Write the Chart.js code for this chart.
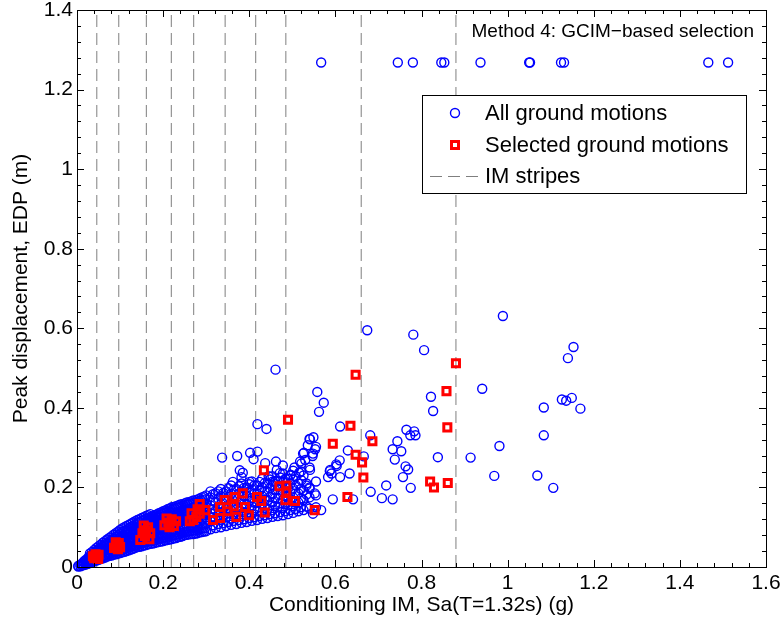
<!DOCTYPE html>
<html lang="en">
<head>
<meta charset="UTF-8">
<title>GCIM-based selection</title>
<script src="https://cdn.jsdelivr.net/npm/chart.js"></script>
<style>
    body { margin: 0; background: #fff; }
    .chart-wrapper { width: 781px; height: 628px; position: relative; }
</style>
</head>
<body>
<div class="chart-wrapper"><canvas id="edpChart"></canvas></div>
<script>
const FONT = "'Liberation Sans', Arial, Helvetica, sans-serif";

// axes
const xTickValues = [0, 0.2, 0.4, 0.6, 0.8, 1, 1.2, 1.4, 1.6];
const xTickLabels = ['0', '0.2', '0.4', '0.6', '0.8', '1', '1.2', '1.4', '1.6'];
const yTickValues = [0, 0.2, 0.4, 0.6, 0.8, 1, 1.2, 1.4];
const yTickLabels = ['0', '0.2', '0.4', '0.6', '0.8', '1', '1.2', '1.4'];

// IM stripe locations, Sa (g)
const stripeIM = [0.046, 0.097, 0.161, 0.219, 0.271, 0.344, 0.415, 0.485, 0.660, 0.880];

// all ground motions [Sa, EDP]
const allMotions = [
    [0.003,0.001],[0.003,0.003],[0.008,0.002],[0.008,0.006],[0.012,0.004],[0.012,0.009],
    [0.016,0.005],[0.016,0.011],[0.016,0.014],[0.02,0.006],[0.02,0.012],[0.02,0.018],
    [0.025,0.008],[0.025,0.015],[0.025,0.022],[0.03,0.010],[0.03,0.018],[0.03,0.027],
    [0.035,0.012],[0.035,0.021],[0.035,0.031],[0.04,0.014],[0.04,0.024],[0.04,0.035],
    [0.045,0.016],[0.045,0.027],[0.045,0.040],[0.05,0.018],[0.05,0.030],[0.05,0.044],
    [0.055,0.020],[0.055,0.034],[0.055,0.048],[0.06,0.022],[0.06,0.037],[0.06,0.052],
    [0.065,0.024],[0.065,0.040],[0.065,0.057],[0.07,0.026],[0.07,0.036],[0.07,0.048],[0.07,0.060],
    [0.075,0.028],[0.075,0.042],[0.075,0.055],[0.075,0.064],[0.08,0.029],[0.08,0.040],[0.08,0.052],[0.08,0.068],
    [0.085,0.031],[0.085,0.046],[0.085,0.060],[0.085,0.072],[0.09,0.032],[0.09,0.044],[0.09,0.057],[0.09,0.076],
    [0.095,0.034],[0.095,0.049],[0.095,0.065],[0.095,0.080],
    [0.10,0.035],[0.10,0.047],[0.10,0.060],[0.10,0.073],[0.10,0.084],
    [0.105,0.037],[0.105,0.053],[0.105,0.068],[0.105,0.088],
    [0.11,0.038],[0.11,0.050],[0.11,0.063],[0.11,0.077],[0.11,0.091],
    [0.115,0.040],[0.115,0.056],[0.115,0.071],[0.115,0.094],
    [0.12,0.042],[0.12,0.054],[0.12,0.067],[0.12,0.082],[0.12,0.097],
    [0.125,0.044],[0.125,0.060],[0.125,0.075],[0.125,0.090],[0.125,0.100],
    [0.13,0.046],[0.13,0.058],[0.13,0.071],[0.13,0.086],[0.13,0.103],
    [0.135,0.048],[0.135,0.064],[0.135,0.080],[0.135,0.095],[0.135,0.107],
    [0.14,0.050],[0.14,0.062],[0.14,0.075],[0.14,0.090],[0.14,0.110],
    [0.145,0.051],[0.145,0.068],[0.145,0.084],[0.145,0.100],[0.145,0.112],
    [0.15,0.052],[0.15,0.065],[0.15,0.079],[0.15,0.094],[0.15,0.115],
    [0.155,0.054],[0.155,0.071],[0.155,0.088],[0.155,0.105],[0.155,0.117],
    [0.16,0.055],[0.16,0.068],[0.16,0.083],[0.16,0.098],[0.16,0.112],[0.16,0.120],
    [0.165,0.057],[0.165,0.075],[0.165,0.092],[0.165,0.109],[0.165,0.122],
    [0.17,0.058],[0.17,0.071],[0.17,0.086],[0.17,0.101],[0.17,0.116],[0.17,0.125],
    [0.175,0.059],[0.175,0.078],[0.175,0.095],[0.175,0.112],[0.175,0.127],
    [0.18,0.060],[0.18,0.074],[0.18,0.089],[0.18,0.105],[0.18,0.120],[0.18,0.130],
    [0.185,0.062],[0.185,0.081],[0.185,0.098],[0.185,0.115],[0.185,0.132],
    [0.19,0.063],[0.19,0.077],[0.19,0.092],[0.19,0.108],[0.19,0.124],[0.19,0.135],
    [0.195,0.064],[0.195,0.084],[0.195,0.101],[0.195,0.119],[0.195,0.137],
    [0.20,0.065],[0.20,0.080],[0.20,0.095],[0.20,0.111],[0.20,0.127],[0.20,0.140],
    [0.205,0.067],[0.205,0.087],[0.205,0.104],[0.205,0.122],[0.205,0.142],
    [0.21,0.068],[0.21,0.083],[0.21,0.098],[0.21,0.115],[0.21,0.131],[0.21,0.145],
    [0.215,0.069],[0.215,0.090],[0.215,0.108],[0.215,0.126],[0.215,0.147],
    [0.22,0.070],[0.22,0.086],[0.22,0.101],[0.22,0.118],[0.22,0.135],[0.22,0.150],
    [0.225,0.072],[0.225,0.093],[0.225,0.111],[0.225,0.129],[0.225,0.151],
    [0.23,0.073],[0.23,0.088],[0.23,0.104],[0.23,0.121],[0.23,0.138],[0.23,0.153],
    [0.235,0.075],[0.235,0.096],[0.235,0.114],[0.235,0.132],[0.235,0.155],
    [0.24,0.076],[0.24,0.091],[0.24,0.107],[0.24,0.124],[0.24,0.141],[0.24,0.157],
    [0.245,0.078],[0.245,0.099],[0.245,0.117],[0.245,0.135],[0.245,0.158],
    [0.25,0.080],[0.25,0.094],[0.25,0.110],[0.25,0.127],[0.25,0.144],[0.25,0.160],
    [0.255,0.081],[0.255,0.102],[0.255,0.120],[0.255,0.138],[0.255,0.162],
    [0.26,0.082],[0.26,0.097],[0.26,0.113],[0.26,0.130],[0.26,0.147],[0.26,0.163],
    [0.265,0.083],[0.265,0.105],[0.265,0.123],[0.265,0.141],[0.265,0.165],
    [0.27,0.083],[0.27,0.099],[0.27,0.116],[0.27,0.133],[0.27,0.150],[0.27,0.167],
    [0.275,0.084],[0.275,0.108],[0.275,0.126],[0.275,0.144],[0.275,0.168],
    [0.28,0.085],[0.28,0.102],[0.28,0.119],[0.28,0.136],[0.28,0.153],[0.28,0.170],
    [0.285,0.087],[0.285,0.111],[0.285,0.129],[0.285,0.147],[0.285,0.172],
    [0.29,0.088],[0.29,0.105],[0.29,0.122],[0.29,0.139],[0.29,0.156],[0.29,0.175],
    [0.295,0.089],[0.295,0.114],[0.295,0.132],[0.295,0.150],[0.295,0.177],
    [0.30,0.090],[0.30,0.108],[0.30,0.125],[0.30,0.142],[0.30,0.160],[0.30,0.180],
    // in-between points of the dense band
    [0.0125,0.005],[0.0125,0.007],[0.0225,0.009],[0.0225,0.015],
    [0.0275,0.011],[0.0275,0.019],[0.0275,0.025],[0.0325,0.014],[0.0325,0.023],[0.0325,0.029],
    [0.0375,0.017],[0.0375,0.027],[0.0375,0.033],[0.0425,0.019],[0.0425,0.030],[0.0425,0.038],
    [0.0475,0.021],[0.0475,0.034],[0.0475,0.042],[0.0525,0.024],[0.0525,0.037],[0.0525,0.046],
    [0.0575,0.026],[0.0575,0.041],[0.0575,0.050],[0.0625,0.029],[0.0625,0.045],[0.0625,0.054],
    [0.0675,0.031],[0.0675,0.043],[0.0675,0.054],[0.0725,0.031],[0.0725,0.045],[0.0725,0.058],
    [0.0775,0.034],[0.0775,0.047],[0.0775,0.060],[0.0825,0.035],[0.0825,0.049],[0.0825,0.064],
    [0.0875,0.038],[0.0875,0.052],[0.0875,0.067],[0.0925,0.039],[0.0925,0.051],[0.0925,0.070],
    [0.0975,0.041],[0.0975,0.055],[0.0975,0.072],[0.1025,0.042],[0.1025,0.057],[0.1025,0.078],
    [0.1075,0.044],[0.1075,0.060],[0.1075,0.080],[0.1125,0.046],[0.1125,0.062],[0.1125,0.085],
    [0.1175,0.048],[0.1175,0.064],[0.1175,0.080],[0.1175,0.090],[0.1225,0.050],[0.1225,0.066],[0.1225,0.086],
    [0.1275,0.052],[0.1275,0.068],[0.1275,0.083],[0.1275,0.096],[0.1325,0.054],[0.1325,0.070],[0.1325,0.090],
    [0.1375,0.056],[0.1375,0.072],[0.1375,0.088],[0.1375,0.101],[0.1425,0.058],[0.1425,0.074],[0.1425,0.096],
    [0.1475,0.059],[0.1475,0.076],[0.1475,0.092],[0.1475,0.106],[0.1525,0.061],[0.1525,0.078],[0.1525,0.100],
    [0.1575,0.062],[0.1575,0.080],[0.1575,0.096],[0.1575,0.110],[0.1625,0.063],[0.1625,0.082],[0.1625,0.104],[0.1625,0.116],
    [0.1675,0.065],[0.1675,0.084],[0.1675,0.100],[0.1675,0.118],[0.1725,0.066],[0.1725,0.086],[0.1725,0.108],[0.1725,0.122],
    [0.1775,0.067],[0.1775,0.088],[0.1775,0.104],[0.1775,0.124],[0.1825,0.068],[0.1825,0.090],[0.1825,0.112],[0.1825,0.127],
    [0.1875,0.070],[0.1875,0.092],[0.1875,0.108],[0.1875,0.128],[0.1925,0.071],[0.1925,0.094],[0.1925,0.116],[0.1925,0.131],
    [0.1975,0.072],[0.1975,0.096],[0.1975,0.112],[0.1975,0.134],[0.2025,0.074],[0.2025,0.098],[0.2025,0.120],[0.2025,0.136],
    [0.2075,0.075],[0.2075,0.100],[0.2075,0.116],[0.2075,0.138],[0.2125,0.077],[0.2125,0.102],[0.2125,0.124],[0.2125,0.140],
    [0.2175,0.078],[0.2175,0.104],[0.2175,0.120],[0.2175,0.143],[0.2225,0.079],[0.2225,0.106],[0.2225,0.128],[0.2225,0.145],
    [0.2275,0.080],[0.2275,0.108],[0.2275,0.124],[0.2275,0.146],[0.2325,0.082],[0.2325,0.110],[0.2325,0.132],[0.2325,0.149],
    [0.2375,0.083],[0.2375,0.112],[0.2375,0.128],[0.2375,0.150],[0.2425,0.085],[0.2425,0.114],[0.2425,0.136],[0.2425,0.153],
    [0.2475,0.087],[0.2475,0.116],[0.2475,0.132],[0.2475,0.154],[0.2525,0.088],[0.2525,0.118],[0.2525,0.140],[0.2525,0.156],
    [0.2575,0.089],[0.2575,0.120],[0.2575,0.136],[0.2575,0.157],[0.2625,0.090],[0.2625,0.122],[0.2625,0.144],[0.2625,0.159],
    [0.2675,0.091],[0.2675,0.124],[0.2675,0.140],[0.2675,0.160],[0.2725,0.092],[0.2725,0.126],[0.2725,0.148],[0.2725,0.162],
    [0.2775,0.093],[0.2775,0.128],[0.2775,0.144],[0.2775,0.163],[0.2825,0.094],[0.2825,0.130],[0.2825,0.152],[0.2825,0.165],
    [0.2875,0.096],[0.2875,0.132],[0.2875,0.148],[0.2875,0.167],[0.2925,0.097],[0.2925,0.134],[0.2925,0.156],[0.2925,0.168],
    [0.2975,0.098],[0.2975,0.136],[0.2975,0.152],[0.2975,0.170],
    // upper rim of the band
    [0.03,0.034],[0.035,0.038],[0.04,0.043],[0.045,0.048],[0.05,0.052],[0.055,0.056],[0.06,0.061],
    [0.065,0.065],[0.07,0.069],[0.075,0.073],[0.08,0.077],[0.085,0.081],[0.09,0.085],[0.095,0.089],
    [0.10,0.093],[0.105,0.097],[0.11,0.100],[0.115,0.103],[0.12,0.106],[0.125,0.109],[0.13,0.112],
    [0.135,0.115],[0.14,0.118],[0.145,0.120],[0.15,0.123],[0.155,0.125],[0.16,0.128],[0.165,0.130],[0.17,0.133],
    // upper part of the cloud, Sa 0.3 - 0.55
    [0.31,0.095],[0.31,0.115],[0.31,0.135],[0.31,0.155],[0.31,0.175],[0.31,0.190],
    [0.322,0.098],[0.322,0.120],[0.322,0.142],[0.322,0.163],[0.322,0.185],
    [0.334,0.100],[0.334,0.118],[0.334,0.138],[0.334,0.158],[0.334,0.178],[0.334,0.196],
    [0.346,0.103],[0.346,0.125],[0.346,0.147],[0.346,0.170],[0.346,0.190],
    [0.358,0.106],[0.358,0.122],[0.358,0.142],[0.358,0.162],[0.358,0.184],[0.358,0.205],
    [0.37,0.108],[0.37,0.130],[0.37,0.152],[0.37,0.175],[0.37,0.196],
    [0.382,0.111],[0.382,0.128],[0.382,0.148],[0.382,0.168],[0.382,0.190],[0.382,0.210],
    [0.394,0.113],[0.394,0.135],[0.394,0.157],[0.394,0.180],[0.394,0.200],
    [0.406,0.116],[0.406,0.133],[0.406,0.152],[0.406,0.173],[0.406,0.195],[0.406,0.215],
    [0.418,0.118],[0.418,0.140],[0.418,0.162],[0.418,0.185],[0.418,0.205],
    [0.43,0.121],[0.43,0.138],[0.43,0.158],[0.43,0.178],[0.43,0.200],[0.43,0.222],
    [0.442,0.123],[0.442,0.145],[0.442,0.167],[0.442,0.190],[0.442,0.210],
    [0.454,0.126],[0.454,0.143],[0.454,0.163],[0.454,0.184],[0.454,0.205],[0.454,0.228],
    [0.466,0.128],[0.466,0.150],[0.466,0.172],[0.466,0.195],[0.466,0.217],
    [0.478,0.130],[0.478,0.148],[0.478,0.168],[0.478,0.190],[0.478,0.213],[0.478,0.235],
    [0.49,0.133],[0.49,0.156],[0.49,0.178],[0.49,0.200],[0.49,0.222],
    [0.502,0.136],[0.502,0.153],[0.502,0.175],[0.502,0.197],[0.502,0.220],[0.502,0.242],
    [0.514,0.140],[0.514,0.162],[0.514,0.185],[0.514,0.210],
    [0.526,0.143],[0.526,0.168],[0.526,0.192],[0.526,0.230],
    [0.54,0.147],[0.54,0.175],[0.54,0.200],[0.54,0.250],[0.555,0.150],[0.555,0.180],[0.555,0.215],
    [0.316,0.105],[0.316,0.125],[0.316,0.145],[0.316,0.165],[0.316,0.183],
    [0.328,0.108],[0.328,0.130],[0.328,0.150],[0.328,0.172],[0.328,0.190],
    [0.340,0.110],[0.340,0.128],[0.340,0.148],[0.340,0.168],[0.340,0.186],
    [0.352,0.113],[0.352,0.135],[0.352,0.155],[0.352,0.177],[0.352,0.198],
    [0.364,0.116],[0.364,0.132],[0.364,0.152],[0.364,0.173],[0.364,0.194],
    [0.376,0.118],[0.376,0.140],[0.376,0.162],[0.376,0.184],[0.376,0.203],
    [0.388,0.120],[0.388,0.138],[0.388,0.158],[0.388,0.178],[0.388,0.199],
    [0.400,0.123],[0.400,0.145],[0.400,0.166],[0.400,0.188],[0.400,0.208],
    [0.412,0.125],[0.412,0.143],[0.412,0.162],[0.412,0.184],[0.412,0.205],
    [0.424,0.128],[0.424,0.150],[0.424,0.172],[0.424,0.193],[0.424,0.214],
    [0.436,0.130],[0.436,0.148],[0.436,0.168],[0.436,0.189],[0.436,0.211],
    [0.448,0.133],[0.448,0.155],[0.448,0.176],[0.448,0.198],[0.448,0.220],
    [0.460,0.135],[0.460,0.153],[0.460,0.173],[0.460,0.194],[0.460,0.216],
    [0.472,0.138],[0.472,0.160],[0.472,0.182],[0.472,0.203],[0.472,0.225],
    [0.484,0.140],[0.484,0.158],[0.484,0.178],[0.484,0.200],[0.484,0.222],
    [0.496,0.143],[0.496,0.165],[0.496,0.187],[0.496,0.210],[0.496,0.232],
    [0.508,0.146],[0.508,0.163],[0.508,0.185],[0.508,0.205],[0.508,0.228],
    [0.520,0.150],[0.520,0.172],[0.520,0.196],[0.520,0.240],[0.533,0.152],[0.533,0.182],[0.533,0.205],
    // scattered motions
    [0.461,0.496],[0.558,0.440],[0.573,0.413],[0.562,0.390],[0.419,0.359],[0.440,0.347],[0.611,0.353],
    [0.541,0.321],[0.549,0.326],[0.555,0.302],[0.553,0.296],[0.527,0.287],[0.518,0.265],[0.530,0.269],[0.547,0.279],
    [0.337,0.275],[0.372,0.279],[0.402,0.287],[0.419,0.290],[0.410,0.271],[0.462,0.265],[0.437,0.261],
    [0.464,0.244],[0.471,0.236],[0.385,0.237],[0.516,0.237],[0.541,0.244],[0.588,0.244],[0.603,0.254],
    [0.362,0.214],[0.382,0.226],[0.401,0.214],[0.378,0.243],[0.536,0.306],[0.525,0.285],[0.521,0.260],
    [0.548,0.285],[0.540,0.322],[0.533,0.210],[0.540,0.197],[0.521,0.218],[0.552,0.185],[0.525,0.168],
    [0.548,0.134],[0.567,0.143],[0.445,0.228],[0.455,0.215],[0.495,0.230],[0.505,0.250],[0.478,0.255],
    [0.610,0.268],[0.602,0.258],[0.611,0.226],[0.587,0.241],[0.591,0.235],[0.583,0.226],[0.641,0.170],
    [0.594,0.170],[0.629,0.293],[0.633,0.235],[0.666,0.278],
    [0.989,0.631],[0.674,0.595],[0.781,0.584],[0.806,0.545],[1.153,0.553],[1.140,0.525],[0.941,0.448],
    [0.822,0.428],[0.827,0.392],[1.084,0.401],[1.126,0.421],[1.136,0.418],[1.149,0.425],[1.169,0.398],
    [1.084,0.331],[0.981,0.304],[0.914,0.275],[0.838,0.276],[0.969,0.229],[1.069,0.230],[1.106,0.199],
    [0.681,0.331],[0.765,0.345],[0.783,0.341],[0.786,0.331],[0.774,0.331],[0.744,0.316],[0.733,0.296],
    [0.753,0.291],[0.738,0.270],[0.763,0.253],[0.769,0.245],[0.757,0.226],[0.775,0.199],[0.718,0.205],
    [0.708,0.173],[0.733,0.170],[0.682,0.189],
    [0.567,1.268],[0.745,1.268],[0.780,1.268],[0.846,1.268],[0.853,1.268],[0.937,1.268],
    [1.050,1.268],[1.052,1.268],[1.124,1.268],[1.131,1.268],[1.466,1.268],[1.512,1.268]
];

// selected ground motions [Sa, EDP]
const selectedMotions = [
    [0.040,0.022],[0.046,0.027],[0.050,0.031],[0.043,0.032],[0.049,0.020],[0.037,0.027],
    [0.086,0.048],[0.092,0.055],[0.097,0.060],[0.100,0.050],[0.090,0.062],[0.095,0.045],
    [0.147,0.068],[0.168,0.070],[0.152,0.085],[0.160,0.092],[0.165,0.100],[0.155,0.104],[0.170,0.085],[0.158,0.078],
    [0.203,0.105],[0.212,0.112],[0.220,0.120],[0.225,0.103],[0.208,0.122],[0.230,0.115],[0.215,0.100],
    [0.262,0.115],[0.270,0.118],[0.277,0.126],[0.285,0.134],[0.285,0.158],[0.298,0.143],[0.280,0.145],[0.266,0.135],
    [0.316,0.118],[0.332,0.123],[0.332,0.151],[0.343,0.168],[0.366,0.176],[0.364,0.153],[0.370,0.126],
    [0.350,0.140],[0.385,0.185],[0.390,0.151],[0.399,0.130],
    [0.418,0.176],[0.428,0.166],[0.436,0.137],[0.434,0.243],
    [0.470,0.203],[0.486,0.205],[0.486,0.190],[0.484,0.168],[0.506,0.166],[0.490,0.370],[0.552,0.143],
    [0.647,0.483],[0.635,0.355],[0.686,0.316],[0.594,0.310],[0.647,0.282],[0.662,0.263],[0.665,0.225],[0.628,0.176],
    [0.880,0.512],[0.858,0.442],[0.860,0.351],[0.820,0.215],[0.829,0.200],[0.861,0.211]
];

const legendLabels = ['All ground motions', 'Selected ground motions', 'IM stripes'];
const cornerTitle = 'Method 4: GCIM\u2212based selection';

const toXY = arr => arr.map(p => ({ x: p[0], y: p[1] }));

// box, inward major/minor ticks, corner text and legend, MATLAB style
const matlabFrame = {
    id: 'matlabFrame',
    afterDraw(chart) {
        const ctx = chart.ctx;
        const { left, right, top, bottom } = chart.chartArea;
        const xs = chart.scales.x, ys = chart.scales.y;
        ctx.save();
        ctx.strokeStyle = '#000';
        ctx.lineWidth = 1;
        ctx.beginPath();
        for (let i = 0; i <= 40; i++) {
            const px = Math.round(xs.getPixelForValue(i * 0.04)) + 0.5;
            const len = i % 5 === 0 ? 7 : 4;
            ctx.moveTo(px, bottom); ctx.lineTo(px, bottom - len);
            ctx.moveTo(px, top); ctx.lineTo(px, top + len);
        }
        for (let i = 0; i <= 35; i++) {
            const py = Math.round(ys.getPixelForValue(i * 0.04)) + 0.5;
            const len = i % 5 === 0 ? 7 : 4;
            ctx.moveTo(left, py); ctx.lineTo(left + len, py);
            ctx.moveTo(right, py); ctx.lineTo(right - len, py);
        }
        ctx.stroke();
        ctx.strokeRect(Math.round(left) + 0.5, Math.round(top) + 0.5,
            Math.round(right - left), Math.round(bottom - top));

        // corner text
        ctx.fillStyle = '#000';
        ctx.font = '19px ' + FONT;
        ctx.textAlign = 'right';
        ctx.textBaseline = 'middle';
        ctx.fillText(cornerTitle, right - 12, top + 22);

        // legend box
        const bx = right - 344, by = top + 85, bw = 324, bh = 98;
        ctx.fillStyle = '#fff';
        ctx.fillRect(bx, by, bw, bh);
        ctx.strokeRect(bx + 0.5, by + 0.5, bw, bh);
        const rows = [by + 18, by + 50, by + 81];
        const mx = bx + 33;
        ctx.strokeStyle = '#0000ff';
        ctx.lineWidth = 1.4;
        ctx.beginPath();
        ctx.arc(mx, rows[0], 4.5, 0, Math.PI * 2);
        ctx.stroke();
        ctx.strokeStyle = '#ff0000';
        ctx.lineWidth = 3;
        ctx.strokeRect(mx - 3.5, rows[1] - 3.5, 7, 7);
        ctx.strokeStyle = '#7f7f7f';
        ctx.lineWidth = 1;
        ctx.setLineDash([12, 6]);
        ctx.beginPath();
        ctx.moveTo(bx + 8, rows[2] + 0.5);
        ctx.lineTo(bx + 57, rows[2] + 0.5);
        ctx.stroke();
        ctx.setLineDash([]);
        ctx.fillStyle = '#000';
        ctx.font = '22px ' + FONT;
        ctx.textAlign = 'left';
        legendLabels.forEach((t, i) => ctx.fillText(t, bx + 63, rows[i] + 1));
        ctx.restore();
    }
};

const stripeSets = stripeIM.map(s => ({
    type: 'line',
    data: [{ x: s, y: 0 }, { x: s, y: 1.4 }],
    borderColor: '#7f7f7f',
    borderWidth: 1,
    borderDash: [12, 6],
    pointRadius: 0,
    showLine: true,
    fill: false,
    order: 3
}));

new Chart(document.getElementById('edpChart'), {
    type: 'scatter',
    data: {
        datasets: [
            {
                label: legendLabels[1],
                data: toXY(selectedMotions),
                pointStyle: 'rect',
                pointRadius: 5,
                borderColor: '#ff0000',
                backgroundColor: 'rgba(0,0,0,0)',
                borderWidth: 3,
                clip: false,
                order: 1
            },
            {
                label: legendLabels[0],
                data: toXY(allMotions),
                pointStyle: 'circle',
                pointRadius: 4.5,
                borderColor: '#0000ff',
                backgroundColor: 'rgba(0,0,0,0)',
                borderWidth: 1.4,
                clip: false,
                order: 2
            },
            ...stripeSets
        ]
    },
    options: {
        responsive: true,
        maintainAspectRatio: false,
        animation: false,
        layout: { padding: { top: 10, right: 15, left: 0, bottom: 0 } },
        plugins: { legend: { display: false }, tooltip: { enabled: false } },
        scales: {
            x: {
                type: 'linear', min: 0, max: 1.6,
                afterBuildTicks: s => { s.ticks = xTickValues.map(v => ({ value: v })); },
                afterFit: s => { s.height = 61; s.paddingLeft = 0; s.paddingRight = 0; },
                ticks: {
                    color: '#000', padding: 4, maxRotation: 0, autoSkip: false,
                    font: { family: FONT, size: 21 },
                    callback: (v, i) => xTickLabels[i]
                },
                grid: { display: false, drawTicks: false },
                border: { display: false },
                title: {
                    display: true, text: 'Conditioning IM, Sa(T=1.32s) (g)', color: '#000',
                    font: { family: FONT, size: 21 }, padding: { top: 0, bottom: 10 }
                }
            },
            y: {
                type: 'linear', min: 0, max: 1.4,
                afterBuildTicks: s => { s.ticks = yTickValues.map(v => ({ value: v })); },
                afterFit: s => { s.width = 77; s.paddingTop = 0; s.paddingBottom = 0; },
                ticks: {
                    color: '#000', padding: 4, autoSkip: false,
                    font: { family: FONT, size: 21 },
                    callback: (v, i) => yTickLabels[i]
                },
                grid: { display: false, drawTicks: false },
                border: { display: false },
                title: {
                    display: true, text: 'Peak displacement, EDP (m)', color: '#000',
                    font: { family: FONT, size: 21 }, padding: { top: 9, bottom: 0 }
                }
            }
        }
    },
    plugins: [matlabFrame]
});
</script>
</body>
</html>
